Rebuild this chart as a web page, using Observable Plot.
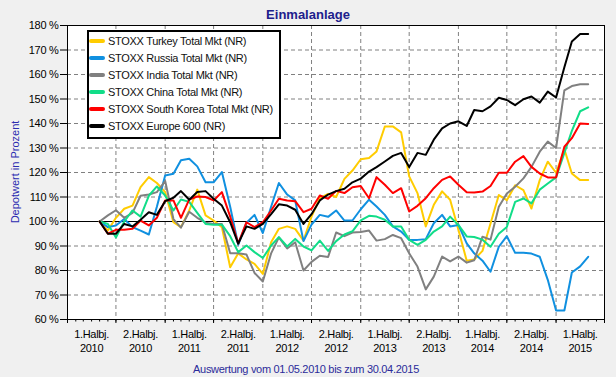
<!DOCTYPE html>
<html><head><meta charset="utf-8">
<script src="https://cdn.jsdelivr.net/npm/d3@7"></script>
<script src="https://cdn.jsdelivr.net/npm/@observablehq/plot@0.6"></script>
<style>
body{margin:0;background:#f0f0f0;font-family:"Liberation Sans",Arial,sans-serif;}
#wrap{position:relative;width:616px;height:377px;background:#f0f0f0;overflow:hidden}
#chart{position:absolute;left:0;top:0}
#chart svg text{letter-spacing:-0.3px}
.title{position:absolute;left:0;width:616px;top:7px;line-height:16px;text-align:center;font-weight:bold;font-size:13px;color:#20208c}
.caption{position:absolute;left:0;width:612px;top:362px;line-height:14px;text-align:center;font-size:11px;color:#2b2b9a;letter-spacing:-0.3px}
.ylabel{position:absolute;left:15px;top:172px;transform:translate(-50%,-50%) rotate(-90deg);white-space:nowrap;font-size:11px;line-height:12px;color:#2b2bb0}
.legend{position:absolute;left:87px;top:30px;width:190px;height:105px;background:#fff;border:2px solid #000}
.legend .row{position:absolute;left:0;height:14px;display:flex;align-items:center;font-size:11px;letter-spacing:-0.3px;white-space:nowrap;color:#111}
.legend .sw{width:16px;height:4px;border-radius:2px;margin-left:0;margin-right:3px}
</style></head>
<body>
<div id="wrap">
  <div id="chart"></div>
  <div class="title" id="title"></div>
  <div class="ylabel" id="ylabel"></div>
  <div class="legend" id="legend"></div>
  <div class="caption" id="caption"></div>
</div>
<script>
const titleText = "Einmalanlage";
const yLabelText = "Depotwert in Prozent";
const captionText = "Auswertung vom 01.05.2010 bis zum 30.04.2015";

const seriesNames = [
  "STOXX Turkey Total Mkt (NR)",
  "STOXX Russia Total Mkt (NR)",
  "STOXX India Total Mkt (NR)",
  "STOXX China Total Mkt (NR)",
  "STOXX South Korea Total Mkt (NR)",
  "STOXX Europe 600 (NR)"
];
const seriesColors = ["#ffcc00", "#1090e0", "#808080", "#11dd88", "#ff0000", "#000000"];

// monthly values, May 2010 .. Apr/May 2015 (61 points)
const turkey = [100, 96.3, 101.5, 105.2, 106.5, 114, 118.1, 115.7, 112, 99.7,
  97.7, 104.5, 113, 102.5, 100.4, 97.7, 81.3, 87, 84.5, 82.7,
  78.6, 91.5, 97, 98, 97, 92.2, 102, 109.5, 111.3, 110,
  117.4, 120.8, 125.4, 125.9, 128.6, 138.8, 138.8, 136.4, 118.4, 111.6,
  98, 106.8, 112.3, 108.9, 96.6, 84, 84.5, 88, 99.2, 110.8,
  108.7, 114.8, 112.8, 105.3, 116.9, 124.4, 119.9, 129.5, 119.6, 116.9,
  116.9];
const russia = [100, 97.7, 98.4, 101, 97.7, 96.3, 94.7, 106, 118.8, 119.5,
  125, 125.6, 122.5, 116, 116, 120.2, 106, 90.5, 99.5, 102.7,
  95.3, 106, 115.7, 111, 108.6, 92, 98.7, 102.7, 101.9, 104.5,
  100.4, 100.4, 105, 108.9, 106.1, 102.7, 98, 95.9, 92.5, 92.5,
  92.8, 99.3, 102.7, 98, 98.6, 91.1, 87, 84, 79.5, 89.7,
  94, 87.2, 87.2, 86.9, 85.6, 76.2, 63.7, 63.7, 79.2, 81.7,
  85.6];
const india = [100, 102.5, 104.6, 101.5, 103.5, 110.5, 111, 112, 116.5, 101,
  97.5, 104, 101.5, 99.5, 99, 99, 87, 87, 86.5, 79,
  75.5, 87, 93.5, 89, 91.5, 80, 83.5, 86, 85.5, 95.5,
  94, 95.5, 95.7, 96.3, 92.2, 92.8, 94.5, 93.2, 87, 81.6,
  72.3, 77.5, 85.7, 83.7, 85.7, 83.2, 84.2, 93.8, 92.6, 106,
  111.4, 114.2, 117.6, 122.3, 128.5, 132.6, 130, 153.5, 155.3, 156,
  156];
const china = [100, 99, 93.5, 100, 104.5, 102, 110.5, 114.3, 110.6, 104.5,
  109, 108, 103.5, 99, 98.7, 98.7, 94, 87.5, 90.2, 87.5,
  85.1, 90.2, 93.6, 89.8, 92.9, 89.8, 88.2, 92.2, 88, 92,
  94.7, 96, 100.5, 102.3, 102, 100.7, 98, 98, 92.5, 90.5,
  92.5, 95.9, 98, 102, 98.6, 93.9, 93.7, 92.6, 89.7, 95,
  97.8, 108, 109.4, 107.4, 113, 115.5, 118, 128, 137, 145,
  146.6];
const korea = [100, 95, 96.6, 96.6, 97, 100.4, 98.4, 101.5, 108.6, 108.6,
  101.5, 109, 110.2, 110, 108.6, 112, 102, 91, 99.7, 97.7,
  99.7, 104.5, 109.3, 108.6, 108.3, 103.8, 105.2, 110.6, 109.3, 112.5,
  111.6, 114, 114.5, 109.5, 118.1, 115, 111.6, 113.6, 104.1, 106.4,
  109.5, 113.6, 117, 118.4, 115, 111.9, 111.8, 112.2, 114.5, 119.9,
  119.9, 124.4, 126.7, 122.3, 119.6, 118, 118, 130.5, 134, 140,
  139.8];
const europe = [100, 95, 95, 99, 98, 100.7, 103.8, 102.7, 108.3, 109.7,
  112.4, 108.9, 112, 112.4, 109.3, 106.5, 99.7, 91, 98, 97,
  99, 103, 107, 106.5, 104.8, 99, 103, 108.6, 111, 112.4,
  113.4, 116, 117.5, 120.4, 122.2, 124.5, 126.8, 128, 122.2, 128,
  127.2, 133.4, 138, 140, 140.9, 139, 145.5, 145, 147, 150.5,
  149.6, 147.5, 149.9, 151, 148.5, 153, 150.6, 163, 173.5, 176.5,
  176.5];
const seriesValues = [turkey, russia, india, china, korea, europe];

const yTicks = [60, 70, 80, 90, 100, 110, 120, 130, 140, 150, 160, 170, 180];
const halfLabels = ["1.Halbj.\n2010", "2.Halbj.\n2010", "1.Halbj.\n2011", "2.Halbj.\n2011",
  "1.Halbj.\n2012", "2.Halbj.\n2012", "1.Halbj.\n2013", "2.Halbj.\n2013",
  "1.Halbj.\n2014", "2.Halbj.\n2014", "1.Halbj.\n2015"];

const months = d3.utcMonth.range(new Date(Date.UTC(2010, 4, 1)), new Date(Date.UTC(2015, 5, 1)));
const data = seriesNames.flatMap((name, s) =>
  seriesValues[s].map((v, i) => ({date: months[i], value: v, series: name})));

const halfBounds = d3.utcMonth.every(6).range(new Date(Date.UTC(2010, 0, 1)), new Date(Date.UTC(2015, 6, 2)));
const innerBounds = halfBounds.slice(1, -1);
const monthTicks = d3.utcMonth.range(new Date(Date.UTC(2010, 0, 1)), new Date(Date.UTC(2015, 6, 2)));
const labelDates = halfBounds.slice(0, -1).map(d => d3.utcMonth.offset(d, 3));
const labelMap = new Map(labelDates.map((d, i) => [+d, halfLabels[i]]));

const dash = {stroke: "#808080", strokeOpacity: 1, strokeDasharray: "4,3"};

const chart = Plot.plot({
  width: 616, height: 377,
  marginLeft: 67, marginRight: 12, marginTop: 25, marginBottom: 58,
  style: {background: "transparent", fontFamily: "Liberation Sans, Arial, sans-serif", fontSize: "11px", color: "#000", overflow: "visible"},
  x: {type: "utc", domain: [halfBounds[0], halfBounds[halfBounds.length - 1]]},
  y: {domain: [60, 180]},
  color: {domain: seriesNames, range: seriesColors},
  marks: [
    Plot.frame({fill: "white", stroke: null}),
    Plot.gridY(yTicks.filter(d => d !== 100), dash),
    Plot.gridX(innerBounds, dash),
    Plot.ruleY([100], {stroke: "#000"}),
    Plot.line(data, {x: "date", y: "value", z: "series", stroke: "series", strokeWidth: 2}),
    Plot.frame({stroke: "#000"}),
    Plot.axisY(yTicks, {tickFormat: d => d + " %", tickSize: 7, tickPadding: 2, label: null}),
    Plot.axisX(halfBounds, {tickSize: 4, tickFormat: () => "", label: null}),
    Plot.axisX(monthTicks, {tickSize: 2.5, tickFormat: () => "", label: null}),
    Plot.axisX(labelDates, {tickSize: 0, tickPadding: 8, tickFormat: d => labelMap.get(+d), lineHeight: 1.3, label: null})
  ]
});
document.getElementById("chart").appendChild(chart);

document.getElementById("title").textContent = titleText;
document.getElementById("ylabel").textContent = yLabelText;
document.getElementById("caption").textContent = captionText;
const legend = document.getElementById("legend");
seriesNames.forEach((name, i) => {
  const row = document.createElement("div");
  row.className = "row";
  row.style.top = (2 + i * 16.9) + "px";
  const sw = document.createElement("span");
  sw.className = "sw";
  sw.style.background = seriesColors[i];
  const t = document.createElement("span");
  t.textContent = name;
  row.appendChild(sw); row.appendChild(t);
  legend.appendChild(row);
});
</script>
</body></html>
